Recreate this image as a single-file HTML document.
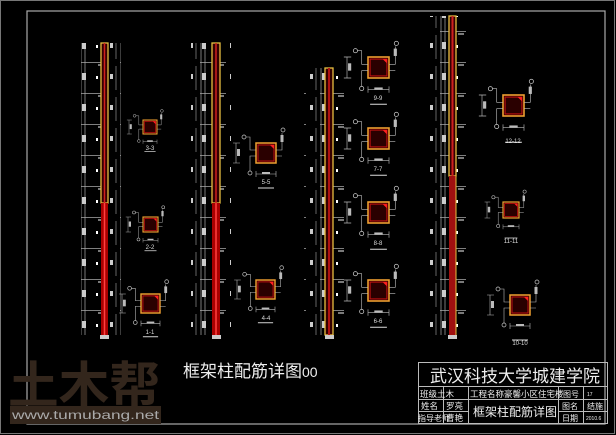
<!DOCTYPE html>
<html><head><meta charset="utf-8"><style>
html,body{margin:0;padding:0;background:#000;width:616px;height:435px;overflow:hidden}
svg{display:block}
text{font-family:"Liberation Sans","Noto Sans CJK SC",sans-serif}
</style></head><body>
<svg width="616" height="435" viewBox="0 0 616 435" xmlns="http://www.w3.org/2000/svg">
<defs>
<pattern id="fl" x="0" y="0" width="40" height="31" patternUnits="userSpaceOnUse">
  <line x1="1" y1="0" x2="1" y2="31" stroke="#aaa" stroke-width="0.7"/>
  <line x1="5" y1="0" x2="5" y2="31" stroke="#aaa" stroke-width="0.7"/>
  <line x1="0" y1="0.5" x2="26" y2="0.5" stroke="#aaa" stroke-width="0.7"/>
  <rect x="2" y="11" width="4" height="7" fill="#ccc"/>
  <rect x="16" y="14" width="2" height="3" fill="#fff"/>
  <rect x="30" y="12" width="3" height="5" fill="#ccc"/>
  <line x1="36" y1="4" x2="36" y2="28" stroke="#aaa" stroke-width="0.6"/>
  <line x1="18" y1="3" x2="24" y2="3" stroke="#ccc" stroke-width="1.2"/>
</pattern>
<g id="sec">
  <rect x="0" y="0" width="20" height="20" fill="#2a0000" stroke="#f0a030" stroke-width="1.5"/>
  <rect x="2" y="2" width="16" height="16" fill="none" stroke="#c01010" stroke-width="1"/>
  <path d="M14 2 L18 2 L18 6 Z" fill="#ff2020"/>
  <path d="M0 7 H-6 V-6 H-10 M0 13 H-6 V28" stroke="#bbb" stroke-width="0.6" fill="none"/>
  <circle cx="-12" cy="-6" r="2" fill="none" stroke="#ccc" stroke-width="0.7"/>
  <circle cx="-6" cy="30" r="2" fill="none" stroke="#ccc" stroke-width="0.7"/>
  <path d="M20 7 H26 V-10 M20 13 H26" stroke="#bbb" stroke-width="0.6" fill="none"/>
  <circle cx="27" cy="-13" r="2" fill="none" stroke="#ccc" stroke-width="0.7"/>
  <rect x="24.5" y="-8" width="3" height="7" fill="#bbb"/>
  <path d="M-20 0 V20 M-23 0 H-16 M-23 20 H-16" stroke="#bbb" stroke-width="0.6" fill="none"/>
  <rect x="-19" y="6" width="3" height="7" fill="#bbb"/>
  <path d="M0 31 H20 M0 28 V34 M20 28 V34" stroke="#bbb" stroke-width="0.6" fill="none"/>
  <rect x="6" y="29" width="8" height="2" fill="#bbb"/>
  <line x1="2" y1="45" x2="18" y2="45" stroke="#ddd" stroke-width="1"/>
</g>
</defs>
<rect x="0.5" y="0.5" width="614" height="433" fill="none" stroke="#777" stroke-width="1"/>
<rect x="27" y="11" width="578" height="413" fill="none" stroke="#aaa" stroke-width="1.2"/>

<!-- col1 -->
<rect x="81" y="43" width="40" height="292" fill="url(#fl)"/>
<rect x="101" y="43" width="7" height="160" fill="#300" stroke="#e8c040" stroke-width="1.3"/>
<line x1="104.5" y1="43" x2="104.5" y2="203" stroke="#d02020" stroke-width="1.5"/>
<rect x="101" y="203" width="7" height="132" fill="#a00"/>
<line x1="104.5" y1="203" x2="104.5" y2="335" stroke="#ff4040" stroke-width="1.5"/>
<rect x="100" y="335" width="9" height="4" fill="#ccc"/>
<!-- col2 -->
<rect x="191" y="43" width="40" height="292" fill="url(#fl)"/>
<rect x="212" y="43" width="8" height="160" fill="#300" stroke="#e8c040" stroke-width="1.3"/>
<line x1="216" y1="43" x2="216" y2="203" stroke="#d02020" stroke-width="1.5"/>
<rect x="212" y="203" width="8" height="132" fill="#a00"/>
<line x1="216" y1="203" x2="216" y2="335" stroke="#ff4040" stroke-width="1.5"/>
<rect x="212" y="335" width="9" height="4" fill="#ccc"/>
<!-- col3 -->
<rect x="304" y="68" width="40" height="267" fill="url(#fl)"/>
<rect x="325" y="68" width="8" height="267" fill="#300" stroke="#e8c040" stroke-width="1.3"/>
<line x1="329" y1="68" x2="329" y2="335" stroke="#b01010" stroke-width="2"/>
<rect x="325" y="335" width="9" height="4" fill="#ccc"/>
<!-- col4 -->
<rect x="428" y="16" width="40" height="319" fill="url(#fl)"/>
<rect x="449" y="16" width="7" height="160" fill="#300" stroke="#e8c040" stroke-width="1.3"/>
<line x1="452.5" y1="16" x2="452.5" y2="176" stroke="#d02020" stroke-width="2"/>
<rect x="449" y="176" width="7" height="159" fill="#a01010"/>
<line x1="456" y1="176" x2="456" y2="335" stroke="#e8c040" stroke-width="1"/>
<rect x="448" y="335" width="9" height="4" fill="#ccc"/>

<g fill="#ddd" font-size="6" text-anchor="middle">
<g transform="translate(143,120) scale(.7)"><use href="#sec"/></g><text x="150" y="150">3-3</text>
<g transform="translate(143,217) scale(.75)"><use href="#sec"/></g><text x="150" y="249">2-2</text>
<g transform="translate(141,294) scale(.95)"><use href="#sec"/></g><text x="150" y="334">1-1</text>
<g transform="translate(256,143)"><use href="#sec"/></g><text x="266" y="184">5-5</text>
<g transform="translate(256,280) scale(.95)"><use href="#sec"/></g><text x="266" y="320">4-4</text>
<g transform="translate(368,57) scale(1.05)"><use href="#sec"/></g><text x="378" y="100">9-9</text>
<g transform="translate(368,128) scale(1.05)"><use href="#sec"/></g><text x="378" y="171">7-7</text>
<g transform="translate(368,202) scale(1.05)"><use href="#sec"/></g><text x="378" y="245">8-8</text>
<g transform="translate(368,280) scale(1.05)"><use href="#sec"/></g><text x="378" y="323">6-6</text>
<g transform="translate(503,95) scale(1.05)"><use href="#sec"/></g><text x="513" y="143">12-12</text>
<g transform="translate(503,202) scale(.8)"><use href="#sec"/></g><text x="511" y="243">11-11</text>
<g transform="translate(510,295)"><use href="#sec"/></g><text x="520" y="345">10-10</text>
</g>

<text x="8" y="403" font-size="50" font-weight="bold" fill="#33261c" textLength="152" lengthAdjust="spacingAndGlyphs">土木帮</text>
<rect x="10" y="406" width="151" height="18" fill="#33261c"/>
<text x="12" y="419" font-family="Liberation Mono" font-size="12" fill="#aaa" textLength="147" lengthAdjust="spacingAndGlyphs">www.tumubang.net</text>

<text x="183" y="377" font-size="17" fill="#eee">框架柱配筋详图<tspan font-size="14">00</tspan></text>

<g stroke="#bbb" stroke-width="1" fill="none">
<rect x="418.5" y="362.5" width="189" height="61"/>
<line x1="418" y1="386.5" x2="608" y2="386.5"/>
<line x1="418" y1="399.5" x2="468" y2="399.5"/>
<line x1="418" y1="411.5" x2="468" y2="411.5"/>
<line x1="558" y1="399.5" x2="608" y2="399.5"/>
<line x1="558" y1="411.5" x2="608" y2="411.5"/>
<line x1="468" y1="399.5" x2="558" y2="399.5"/>
<line x1="443.5" y1="386" x2="443.5" y2="424"/>
<line x1="468.5" y1="386" x2="468.5" y2="424"/>
<line x1="558.5" y1="386" x2="558.5" y2="424"/>
<line x1="583.5" y1="386" x2="583.5" y2="424"/>
</g>
<g fill="#eee">
<text x="430" y="382" font-size="17">武汉科技大学城建学院</text>
<text x="420" y="397" font-size="8.5">班级土木</text>
<text x="470" y="397" font-size="8.5">工程名称豪馨小区住宅楼</text>
<text x="563" y="397" font-size="8">图号</text>
<text x="587" y="396" font-size="5">17</text>
<text x="421" y="409" font-size="8.5">姓名</text>
<text x="446" y="409" font-size="8.5">罗亮</text>
<text x="473" y="416" font-size="12">框架柱配筋详图</text>
<text x="562" y="409" font-size="8">图名</text>
<text x="587" y="409" font-size="8">结施</text>
<text x="418" y="421" font-size="8">指导老师</text>
<text x="446" y="421" font-size="8.5">曹艳</text>
<text x="562" y="421" font-size="8">日期</text>
<text x="586" y="420" font-size="5">2010.6</text>
</g>
</svg>
</body></html>
